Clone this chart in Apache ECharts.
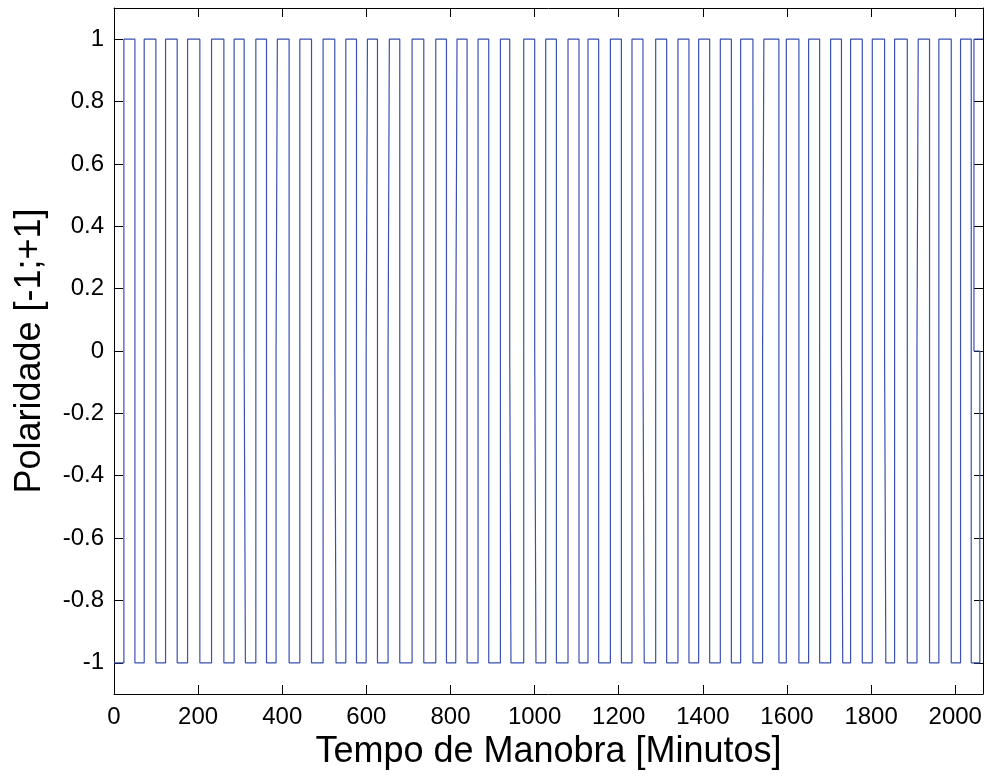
<!DOCTYPE html>
<html><head><meta charset="utf-8">
<script src="https://cdn.jsdelivr.net/npm/echarts@6/dist/echarts.min.js"></script>
<style>html,body{margin:0;padding:0;background:#fff}#c{width:987px;height:780px}</style>
</head><body><div id="c"></div>
<script>
const xTicks = [0, 200, 400, 600, 800, 1000, 1200, 1400, 1600, 1800, 2000];
const yTicks = [-1, -0.8, -0.6, -0.4, -0.2, 0, 0.2, 0.4, 0.6, 0.8, 1];
const xTitle = 'Tempo de Manobra [Minutos]';
const yTitle = 'Polaridade [-1;+1]';
const startLevel = -1;
const endTime = 2066;
// times (minutes) at which the polarity leaves its current level
const edgeTimes = [
  23.5, 49.7, 71.8, 99.6, 122.6, 150.2, 174.9, 204.1, 231.9, 261.2,
  285.6, 309.4, 337.2, 362.6, 385.3, 416.3, 441.8, 469.6, 497.1, 524.9,
  551.1, 576.5, 599.5, 626.4, 651.6, 679.4, 708.7, 736.5, 765.0, 790.4,
  812.5, 839.4, 865.5, 890.9, 918.7, 940.8, 974.1, 1000.2, 1026.4, 1051.8,
  1079.4, 1105.5, 1126.9, 1152.3, 1180.1, 1206.3, 1231.5, 1257.6, 1287.8, 1313.9,
  1340.8, 1366.9, 1390.0, 1416.2, 1441.5, 1467.7, 1489.8, 1519.0, 1542.0, 1580.8,
  1598.4, 1628.3, 1651.4, 1677.6, 1703.7, 1729.5, 1751.2, 1779.0, 1802.8, 1832.0,
  1855.8, 1886.0, 1909.0, 1938.9, 1961.1, 1990.5, 2012.6, 2038.0
];
// minutes spent at 0 during each transition
const zeroHold = [
  0, 0, 0, 0, 0, 0, 0, 0, 0, 0,
  0, 3, 0, 0, 3, 0, 0, 0, 0, 3,
  0, 0, 3, 0, 3, 0, 0, 0, 0, 0,
  3, 0, 0, 0, 0, 3, 0, 3, 0, 0,
  0, 0, 0, 0, 0, 0, 0, 3, 0, 0,
  0, 0, 0, 0, 0, 0, 0, 0, 3, 0,
  0, 0, 0, 0, 0, 3, 0, 0, 0, 3,
  0, 0, 3, 0, 0, 0, 0, 0
];
// last recorded samples [minute, polarity] as drawn at the right edge
const tailTimes = [2058.5, 2058.5, 2044.5, 2044.5, endTime];
const tailLevels = [-1, 0, 0, 1, 1];

const pts = [];
let lvl = startLevel;
pts.push([0, lvl]);
edgeTimes.forEach((t, i) => {
  const nxt = -lvl;
  pts.push([t, lvl]);
  const h = zeroHold[i] || 0;
  if (h > 0) {
    pts.push([t, 0]);
    pts.push([t + h, 0]);
    pts.push([t + h, nxt]);
  } else {
    pts.push([t, nxt]);
  }
  lvl = nxt;
});
tailTimes.forEach((t, i) => pts.push([t, tailLevels[i]]));

const font = "'Liberation Sans', Arial, sans-serif";
const axisLine = { show: true, onZero: false, lineStyle: { color: '#000', width: 1 } };
const chart = echarts.init(document.getElementById('c'), null, { renderer: 'canvas' });
chart.setOption({
  animation: false,
  backgroundColor: '#fff',
  grid: { left: 114, right: 4, top: 8, bottom: 86, containLabel: false },
  xAxis: [
    {
      type: 'value', min: 0, max: endTime, position: 'bottom',
      axisLine, splitLine: { show: false },
      axisTick: { inside: true, length: 9, customValues: xTicks, lineStyle: { color: '#000' } },
      axisLabel: { customValues: xTicks, fontFamily: font, fontSize: 24, color: '#000', margin: 11,
        formatter: v => String(v) },
      name: xTitle, nameLocation: 'middle', nameGap: 40,
      nameTextStyle: { fontFamily: font, fontSize: 36, color: '#000' }
    },
    {
      type: 'value', min: 0, max: endTime, position: 'top',
      axisLine, splitLine: { show: false },
      axisTick: { inside: true, length: 9, customValues: xTicks, lineStyle: { color: '#000' } },
      axisLabel: { show: false }
    }
  ],
  yAxis: [
    {
      type: 'value', min: -1.1, max: 1.1, position: 'left',
      axisLine, splitLine: { show: false },
      axisTick: { inside: true, length: 9, customValues: yTicks, lineStyle: { color: '#000' } },
      axisLabel: {
        customValues: yTicks, fontFamily: font, fontSize: 24, color: '#000', margin: 10,
        formatter: v => String(Math.round(v * 10) / 10)
      },
      name: yTitle, nameLocation: 'middle', nameGap: 66,
      nameTextStyle: { fontFamily: font, fontSize: 36, color: '#000' }
    },
    {
      type: 'value', min: -1.1, max: 1.1, position: 'right',
      axisLine, splitLine: { show: false },
      axisTick: { inside: true, length: 9, customValues: yTicks, lineStyle: { color: '#000' } },
      axisLabel: { show: false }
    }
  ],
  series: [{
    type: 'line', data: pts, xAxisIndex: 0, yAxisIndex: 0,
    showSymbol: false, symbol: 'none', clip: true,
    lineStyle: { color: '#3a50b4', width: 1.2 }
  }]
});
</script>
</body></html>
